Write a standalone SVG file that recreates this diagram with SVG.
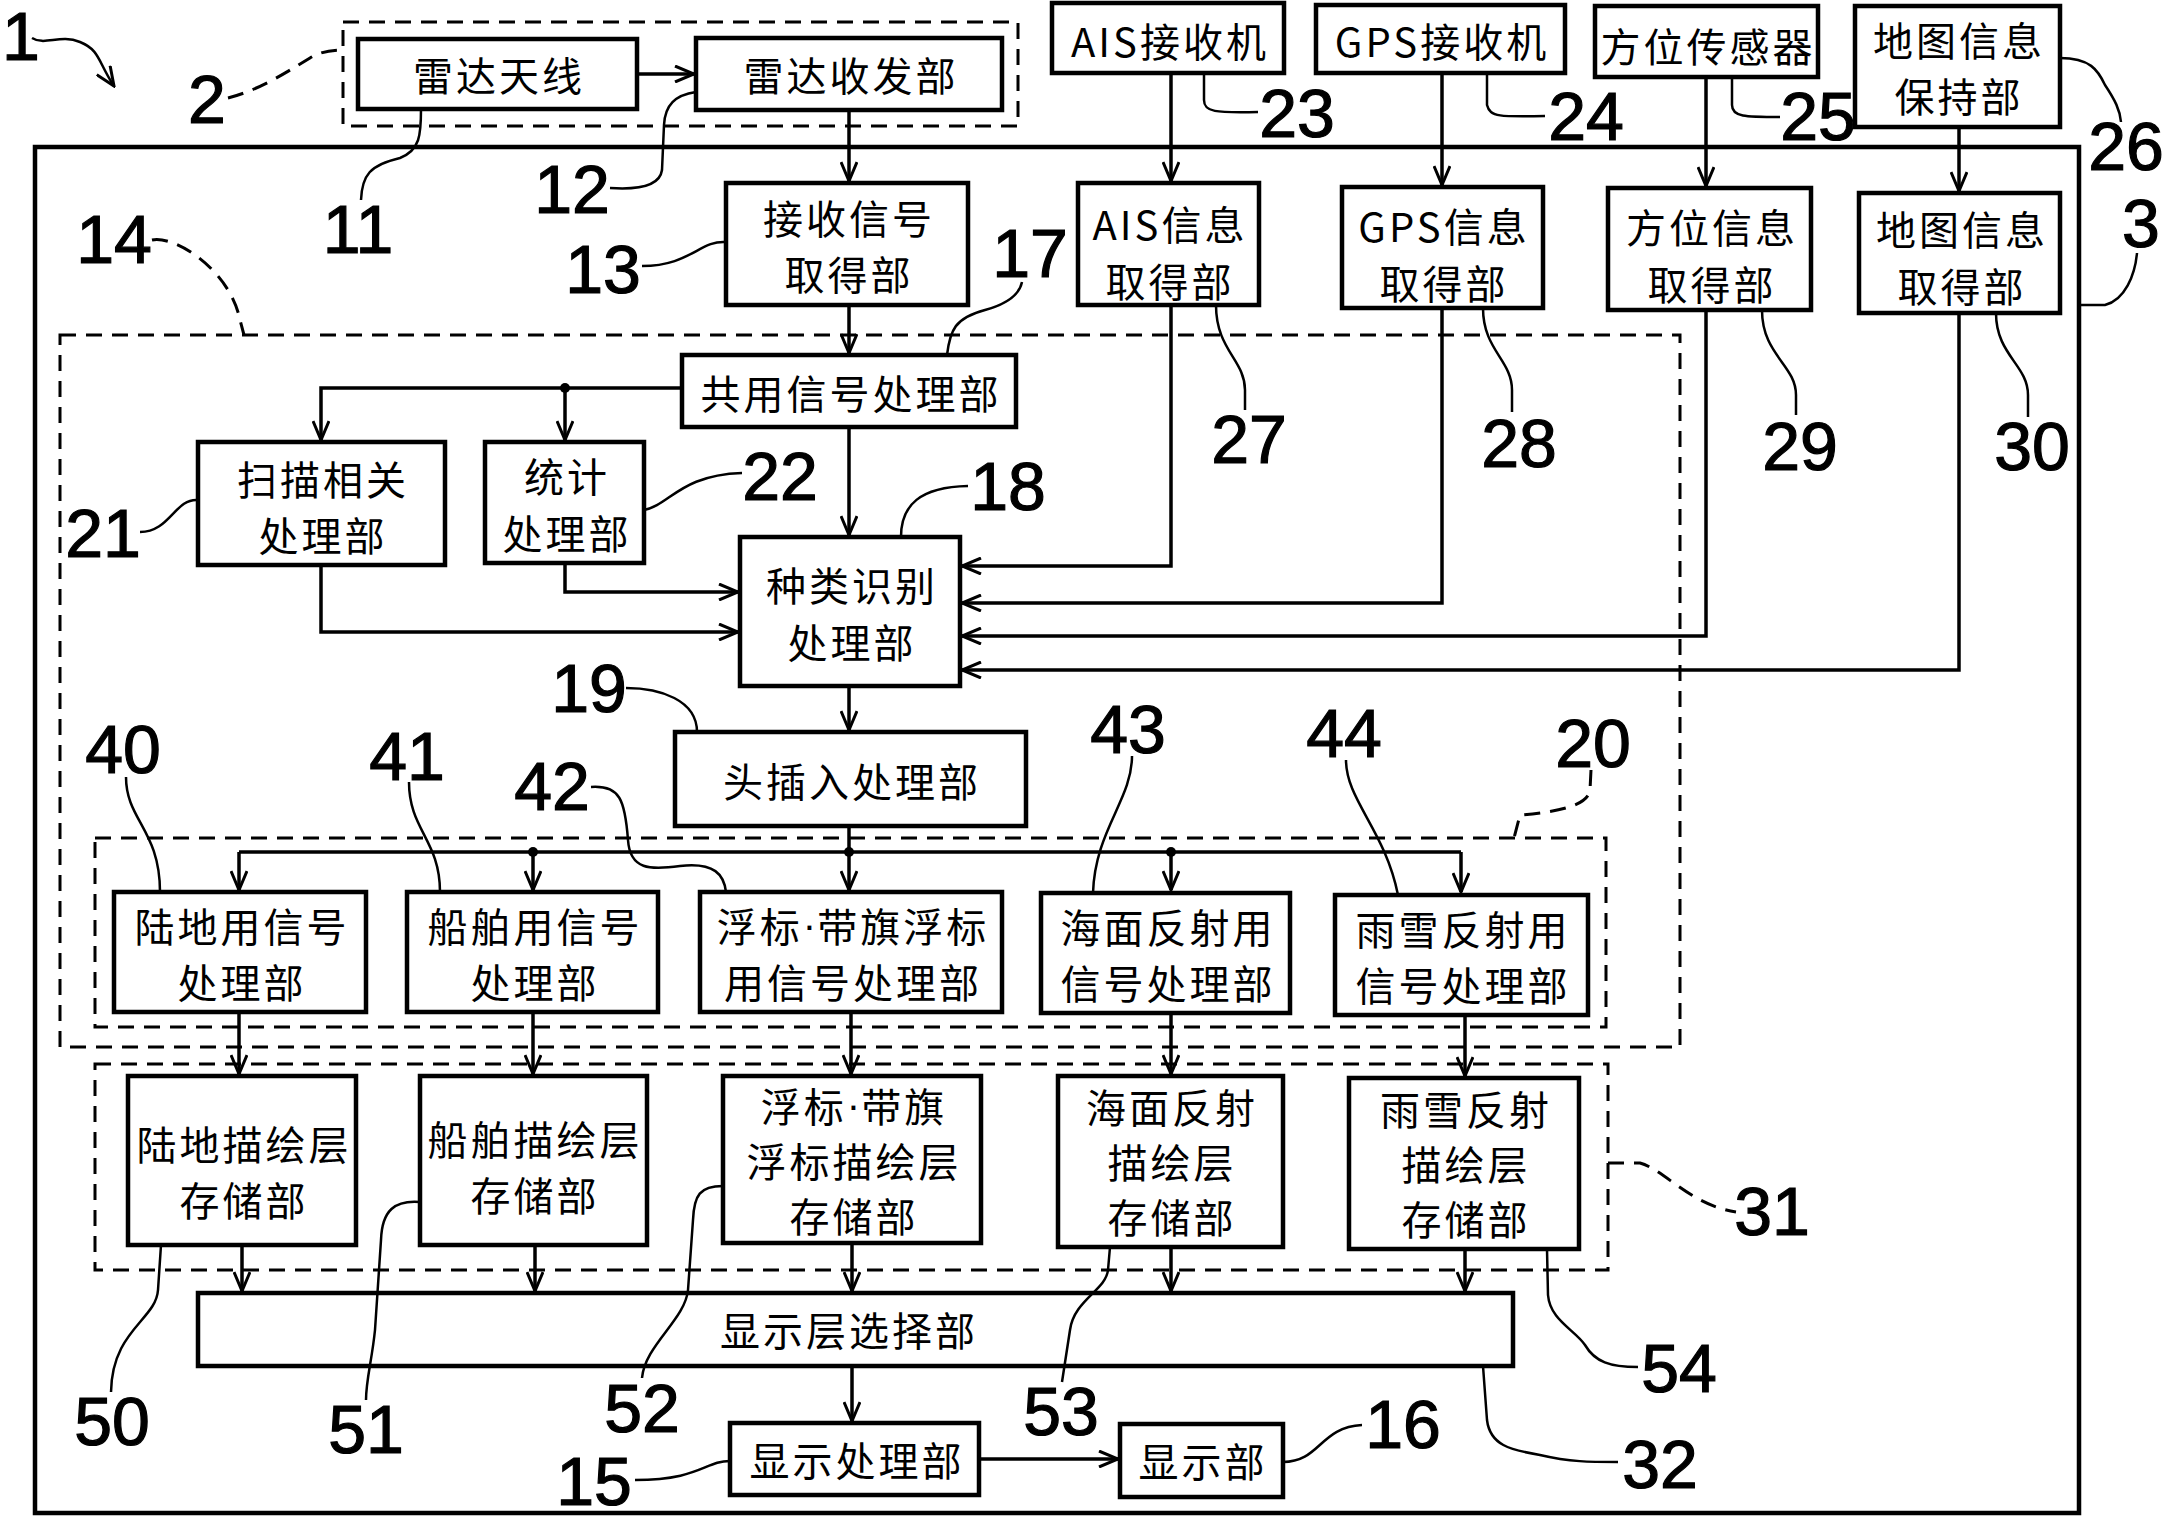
<svg xmlns="http://www.w3.org/2000/svg" width="2166" height="1523" viewBox="0 0 2166 1523">
<style>
.box{fill:#fff;stroke:#000;stroke-width:4.5}
.t{font-family:"Noto Sans CJK SC","Liberation Sans",sans-serif;font-size:40px;letter-spacing:3px;text-anchor:middle;dominant-baseline:central;fill:#000}
.dot{font-family:"Liberation Sans",sans-serif;letter-spacing:1px}
.n{font-family:"Liberation Sans",Arial,sans-serif;font-size:68px;text-anchor:middle;fill:#000;stroke:#000;stroke-width:1.2}
.c{fill:none;stroke:#000;stroke-width:3.5}
.d{fill:none;stroke:#000;stroke-width:3;stroke-dasharray:16 10}
.l{fill:none;stroke:#000;stroke-width:2.5}
</style>
<defs>
<marker id="a" markerWidth="22" markerHeight="18" refX="20" refY="9" orient="auto" markerUnits="userSpaceOnUse">
<path d="M1,1 L20,9 L1,17" fill="none" stroke="#000" stroke-width="3"/>
</marker>
</defs>
<rect width="2166" height="1523" fill="#fff"/>

<g id="frames">
<rect id="unit3" x="35" y="147" width="2044" height="1366" fill="none" stroke="#000" stroke-width="4.5"/>
<rect id="group2" class="d" x="343" y="22" width="675" height="104"/>
<rect id="group14" class="d" x="60" y="335" width="1620" height="712"/>
<rect id="group20" class="d" x="95" y="838" width="1511" height="189"/>
<rect id="group31" class="d" x="95" y="1064" width="1513" height="206"/>
</g>

<g id="connectors">
<path class="c" d="M637,74 H694" marker-end="url(#a)"/>
<path class="c" d="M849,110 V181" marker-end="url(#a)"/>
<path class="c" d="M849,305 V353" marker-end="url(#a)"/>
<path class="c" d="M682,388 H321 V440" marker-end="url(#a)"/>
<path class="c" d="M565,388 V440" marker-end="url(#a)"/>
<circle cx="565" cy="388" r="5"/>
<path class="c" d="M849,427 V535" marker-end="url(#a)"/>
<path class="c" d="M565,563 V592 H738" marker-end="url(#a)"/>
<path class="c" d="M321,565 V632 H738" marker-end="url(#a)"/>
<path class="c" d="M1171,73 V181" marker-end="url(#a)"/>
<path class="c" d="M1442,73 V185" marker-end="url(#a)"/>
<path class="c" d="M1706,77 V186" marker-end="url(#a)"/>
<path class="c" d="M1959,127 V191" marker-end="url(#a)"/>
<path class="c" d="M1171,305 V566 H962" marker-end="url(#a)"/>
<path class="c" d="M1442,308 V603 H962" marker-end="url(#a)"/>
<path class="c" d="M1706,310 V636 H962" marker-end="url(#a)"/>
<path class="c" d="M1959,313 V670 H962" marker-end="url(#a)"/>
<path class="c" d="M849,686 V730" marker-end="url(#a)"/>
<path class="c" d="M849,826 V890" marker-end="url(#a)"/>
<path class="c" d="M239,852 H1461"/>
<path class="c" d="M239,852 V890" marker-end="url(#a)"/>
<path class="c" d="M533,852 V890" marker-end="url(#a)"/>
<path class="c" d="M1171,852 V890" marker-end="url(#a)"/>
<path class="c" d="M1461,852 V892" marker-end="url(#a)"/>
<circle cx="533" cy="852" r="5"/>
<circle cx="849" cy="852" r="5"/>
<circle cx="1171" cy="852" r="5"/>
<path class="c" d="M239,1012 V1074" marker-end="url(#a)"/>
<path class="c" d="M533,1012 V1074" marker-end="url(#a)"/>
<path class="c" d="M851,1012 V1074" marker-end="url(#a)"/>
<path class="c" d="M1171,1013 V1074" marker-end="url(#a)"/>
<path class="c" d="M1465,1015 V1076" marker-end="url(#a)"/>
<path class="c" d="M242,1245 V1291" marker-end="url(#a)"/>
<path class="c" d="M535,1245 V1291" marker-end="url(#a)"/>
<path class="c" d="M852,1243 V1291" marker-end="url(#a)"/>
<path class="c" d="M1171,1247 V1291" marker-end="url(#a)"/>
<path class="c" d="M1465,1249 V1291" marker-end="url(#a)"/>
<path class="c" d="M852,1366 V1421" marker-end="url(#a)"/>
<path class="c" d="M979,1459 H1118" marker-end="url(#a)"/>
</g>

<g id="nodes">
<g id="n11"><rect class="box" x="358" y="39" width="279" height="70"/><text class="t" x="499" y="74">雷达天线</text></g>
<g id="n12"><rect class="box" x="696" y="38" width="306" height="72"/><text class="t" x="851" y="74">雷达收发部</text></g>
<g id="n13"><rect class="box" x="726" y="183" width="242" height="122"/><text class="t" x="849" y="217">接收信号</text><text class="t" x="849" y="273">取得部</text></g>
<g id="n23"><rect class="box" x="1052" y="3" width="232" height="70"/><text class="t" x="1170" y="40">AIS接收机</text></g>
<g id="n24"><rect class="box" x="1316" y="5" width="249" height="68"/><text class="t" x="1442" y="40">GPS接收机</text></g>
<g id="n25"><rect class="box" x="1595" y="6" width="223" height="71"/><text class="t" x="1708" y="45">方位传感器</text></g>
<g id="n26"><rect class="box" x="1855" y="6" width="205" height="121"/><text class="t" x="1959" y="39">地图信息</text><text class="t" x="1959" y="95">保持部</text></g>
<g id="n27"><rect class="box" x="1078" y="183" width="181" height="122"/><text class="t" x="1170" y="223">AIS信息</text><text class="t" x="1170" y="280">取得部</text></g>
<g id="n28"><rect class="box" x="1342" y="187" width="201" height="121"/><text class="t" x="1444" y="225">GPS信息</text><text class="t" x="1444" y="282">取得部</text></g>
<g id="n29"><rect class="box" x="1608" y="188" width="203" height="122"/><text class="t" x="1712" y="226">方位信息</text><text class="t" x="1712" y="283">取得部</text></g>
<g id="n30"><rect class="box" x="1859" y="193" width="201" height="120"/><text class="t" x="1962" y="228">地图信息</text><text class="t" x="1962" y="285">取得部</text></g>
<g id="n17"><rect class="box" x="682" y="355" width="334" height="72"/><text class="t" x="851" y="392">共用信号处理部</text></g>
<g id="n21"><rect class="box" x="198" y="442" width="247" height="123"/><text class="t" x="323" y="478">扫描相关</text><text class="t" x="323" y="534">处理部</text></g>
<g id="n22"><rect class="box" x="485" y="442" width="159" height="121"/><text class="t" x="567" y="475">统计</text><text class="t" x="567" y="532">处理部</text></g>
<g id="n18"><rect class="box" x="740" y="537" width="220" height="149"/><text class="t" x="852" y="584">种类识别</text><text class="t" x="852" y="641">处理部</text></g>
<g id="n19"><rect class="box" x="675" y="732" width="351" height="94"/><text class="t" x="852" y="780">头插入处理部</text></g>
<g id="n40"><rect class="box" x="114" y="892" width="252" height="120"/><text class="t" x="242" y="925">陆地用信号</text><text class="t" x="242" y="981">处理部</text></g>
<g id="n41"><rect class="box" x="407" y="892" width="251" height="120"/><text class="t" x="535" y="925">船舶用信号</text><text class="t" x="535" y="981">处理部</text></g>
<g id="n42"><rect class="box" x="700" y="892" width="302" height="120"/><text class="t" x="853" y="925">浮标<tspan class="dot">·</tspan>带旗浮标</text><text class="t" x="853" y="981">用信号处理部</text></g>
<g id="n43"><rect class="box" x="1041" y="893" width="249" height="120"/><text class="t" x="1168" y="926">海面反射用</text><text class="t" x="1168" y="982">信号处理部</text></g>
<g id="n44"><rect class="box" x="1335" y="895" width="253" height="120"/><text class="t" x="1463" y="928">雨雪反射用</text><text class="t" x="1463" y="984">信号处理部</text></g>
<g id="n50"><rect class="box" x="128" y="1076" width="228" height="169"/><text class="t" x="244" y="1143">陆地描绘层</text><text class="t" x="244" y="1199">存储部</text></g>
<g id="n51"><rect class="box" x="420" y="1076" width="227" height="169"/><text class="t" x="535" y="1138">船舶描绘层</text><text class="t" x="535" y="1194">存储部</text></g>
<g id="n52"><rect class="box" x="723" y="1076" width="258" height="167"/><text class="t" x="854" y="1105">浮标<tspan class="dot">·</tspan>带旗</text><text class="t" x="854" y="1160">浮标描绘层</text><text class="t" x="854" y="1215">存储部</text></g>
<g id="n53"><rect class="box" x="1058" y="1076" width="225" height="171"/><text class="t" x="1172" y="1106">海面反射</text><text class="t" x="1172" y="1161">描绘层</text><text class="t" x="1172" y="1216">存储部</text></g>
<g id="n54"><rect class="box" x="1349" y="1078" width="230" height="171"/><text class="t" x="1466" y="1108">雨雪反射</text><text class="t" x="1466" y="1163">描绘层</text><text class="t" x="1466" y="1218">存储部</text></g>
<g id="n32"><rect class="box" x="198" y="1293" width="1315" height="73"/><text class="t" x="849" y="1329">显示层选择部</text></g>
<g id="n15"><rect class="box" x="730" y="1423" width="249" height="72"/><text class="t" x="857" y="1459">显示处理部</text></g>
<g id="n16"><rect class="box" x="1120" y="1424" width="163" height="73"/><text class="t" x="1203" y="1460">显示部</text></g>
</g>

<g id="leaders">
<path class="l" d="M32,38 C45,46 60,34 80,42 C100,50 98,62 114,86" marker-end="url(#a)"/>
<path class="d" d="M228,98 C260,90 290,70 310,58 C320,52 330,50 343,50"/>
<path class="d" d="M152,240 C175,235 230,270 240,320 L244,335"/>
<path class="d" d="M1591,770 L1590,790 C1588,805 1560,812 1520,815 L1514,838"/>
<path class="d" d="M1608,1163 L1640,1163 C1665,1170 1690,1205 1736,1212"/>
<path class="l" d="M421,109 C421,135 420,150 400,158 C370,165 362,175 361,200"/>
<path class="l" d="M696,92 C675,95 665,105 664,125 L662,170 C660,185 640,190 610,188"/>
<path class="l" d="M726,242 C700,240 690,266 642,266"/>
<path class="l" d="M947,355 C950,330 955,318 985,310 C1010,303 1020,292 1022,282"/>
<path class="l" d="M198,500 C175,498 170,532 140,532"/>
<path class="l" d="M644,510 C670,505 680,475 742,473"/>
<path class="l" d="M901,537 C901,505 920,487 968,486"/>
<path class="l" d="M626,688 C660,688 697,700 697,732"/>
<path class="l" d="M126,777 C126,820 160,830 160,892"/>
<path class="l" d="M409,782 C409,830 440,840 440,892"/>
<path class="l" d="M591,787 C620,785 625,800 628,840 C630,870 650,870 680,866 C715,862 724,875 726,892"/>
<path class="l" d="M1132,756 C1132,800 1095,830 1093,893"/>
<path class="l" d="M1346,760 C1346,800 1385,830 1398,895"/>
<path class="l" d="M161,1245 L158,1290 C156,1320 112,1330 111,1392"/>
<path class="l" d="M420,1202 C395,1200 382,1210 381,1240 L375,1330 C372,1360 366,1380 366,1400"/>
<path class="l" d="M723,1186 C700,1186 694,1195 693,1220 L688,1290 C685,1320 645,1345 642,1378"/>
<path class="l" d="M1110,1247 L1108,1270 C1106,1290 1074,1300 1070,1330 L1062,1382"/>
<path class="l" d="M1547,1249 L1548,1295 C1550,1320 1575,1330 1585,1345 C1595,1362 1610,1367 1638,1367"/>
<path class="l" d="M730,1461 C705,1461 700,1480 635,1480"/>
<path class="l" d="M1283,1462 C1320,1462 1320,1427 1362,1425"/>
<path class="l" d="M1483,1366 L1487,1420 C1490,1445 1510,1450 1540,1455 C1570,1462 1590,1462 1618,1462"/>
<path class="l" d="M1204,73 L1204,100 C1204,112 1215,113 1258,112"/>
<path class="l" d="M1487,73 L1487,105 C1490,117 1500,117 1545,116"/>
<path class="l" d="M1732,77 L1732,105 C1732,117 1745,117 1780,117"/>
<path class="l" d="M2060,58 C2090,58 2098,70 2105,85 C2115,100 2120,110 2121,122"/>
<path class="l" d="M2079,305 L2105,305 C2125,300 2135,275 2137,253"/>
<path class="l" d="M1216,305 C1216,350 1245,360 1245,390 L1245,410"/>
<path class="l" d="M1483,308 C1483,350 1512,360 1512,390 L1512,412"/>
<path class="l" d="M1762,310 C1762,355 1796,365 1796,395 L1796,415"/>
<path class="l" d="M1996,313 C1996,355 2028,365 2028,395 L2028,417"/>
</g>

<g id="labels">
<text class="n" x="21" y="60">1</text>
<text class="n" x="207" y="123">2</text>
<text class="n" x="2141" y="247">3</text>
<text class="n" x="358" y="253">11</text>
<text class="n" x="572" y="213">12</text>
<text class="n" x="603" y="293">13</text>
<text class="n" x="114" y="263">14</text>
<text class="n" x="594" y="1505">15</text>
<text class="n" x="1403" y="1448">16</text>
<text class="n" x="1030" y="277">17</text>
<text class="n" x="1008" y="510">18</text>
<text class="n" x="589" y="712">19</text>
<text class="n" x="1593" y="767">20</text>
<text class="n" x="103" y="557">21</text>
<text class="n" x="780" y="500">22</text>
<text class="n" x="1297" y="137">23</text>
<text class="n" x="1586" y="140">24</text>
<text class="n" x="1818" y="140">25</text>
<text class="n" x="2126" y="170">26</text>
<text class="n" x="1249" y="463">27</text>
<text class="n" x="1519" y="467">28</text>
<text class="n" x="1800" y="470">29</text>
<text class="n" x="2032" y="470">30</text>
<text class="n" x="1772" y="1235">31</text>
<text class="n" x="1660" y="1488">32</text>
<text class="n" x="123" y="773">40</text>
<text class="n" x="407" y="780">41</text>
<text class="n" x="552" y="810">42</text>
<text class="n" x="1128" y="753">43</text>
<text class="n" x="1344" y="757">44</text>
<text class="n" x="112" y="1445">50</text>
<text class="n" x="366" y="1453">51</text>
<text class="n" x="642" y="1432">52</text>
<text class="n" x="1061" y="1435">53</text>
<text class="n" x="1679" y="1392">54</text>
</g>
</svg>
